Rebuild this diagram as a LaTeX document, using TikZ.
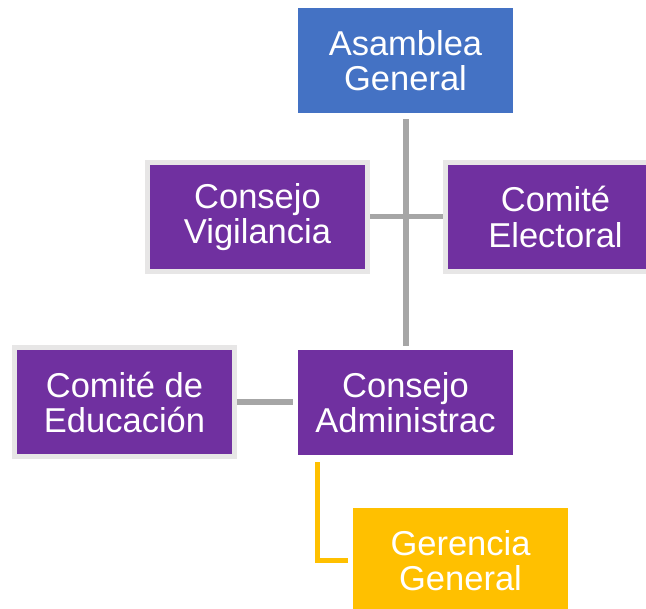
\documentclass[tikz,border=0pt]{standalone}
\usepackage{fontspec}
\setmainfont{Liberation Sans}
\definecolor{cblue}{HTML}{4472C4}
\definecolor{cpurple}{HTML}{7030A0}
\definecolor{cyellow}{HTML}{FFC000}
\definecolor{cgray}{HTML}{A6A6A6}
\definecolor{cborder}{HTML}{E7E6E6}
\tikzset{
  orgbox/.style={rectangle, inner sep=0pt, align=center, text=white,
    font=\fontsize{34.5}{35.5}\selectfont},
  bluebox/.style={orgbox, fill=cblue, minimum width=215pt, minimum height=105pt},
  purplebox/.style={orgbox, fill=cpurple, minimum width=215pt, minimum height=105pt},
  framedbox/.style={orgbox, fill=cpurple, draw=cborder, line width=5pt,
    minimum width=220pt, minimum height=109pt},
  yellowbox/.style={orgbox, fill=cyellow, minimum width=215pt, minimum height=105pt},
  grayline/.style={draw=cgray, line width=6pt},
  yellowline/.style={draw=cyellow, line width=5pt}
}
\begin{document}
\begin{tikzpicture}[x=1pt, y=-1pt]
\useasboundingbox (0,0) rectangle (646,609);
\clip (0,0) rectangle (646,609);
\node[bluebox] (asam) at (405.5,60.5) {Asamblea\\General};
\node[framedbox] (vig) at (257.5,217) {Consejo\\Vigilancia};
\node[framedbox] (elec) at (555.5,217) {Comité\\Electoral};
\node[framedbox] (edu) at (124.5,402.5) {Comité de\\Educación};
\node[purplebox] (adm) at (405.5,402.5) {Consejo\\Administrac};
\node[yellowbox] (ger) at (460.5,560.5) {Gerencia\\General};
\coordinate (ycorner) at ([xshift=20pt,yshift=-7pt]adm.south west);
\coordinate (yend) at ([xshift=-5pt]ger.west);
\draw[grayline, line width=5pt] (vig.east) -- (elec.west);
\draw[grayline, shorten <=6pt, shorten >=4pt] (asam.south) -- (adm.north);
\draw[grayline, shorten >=5pt] (edu.east) -- (adm.west);
\draw[yellowline] (ycorner) |- (yend);
\end{tikzpicture}
\end{document}
